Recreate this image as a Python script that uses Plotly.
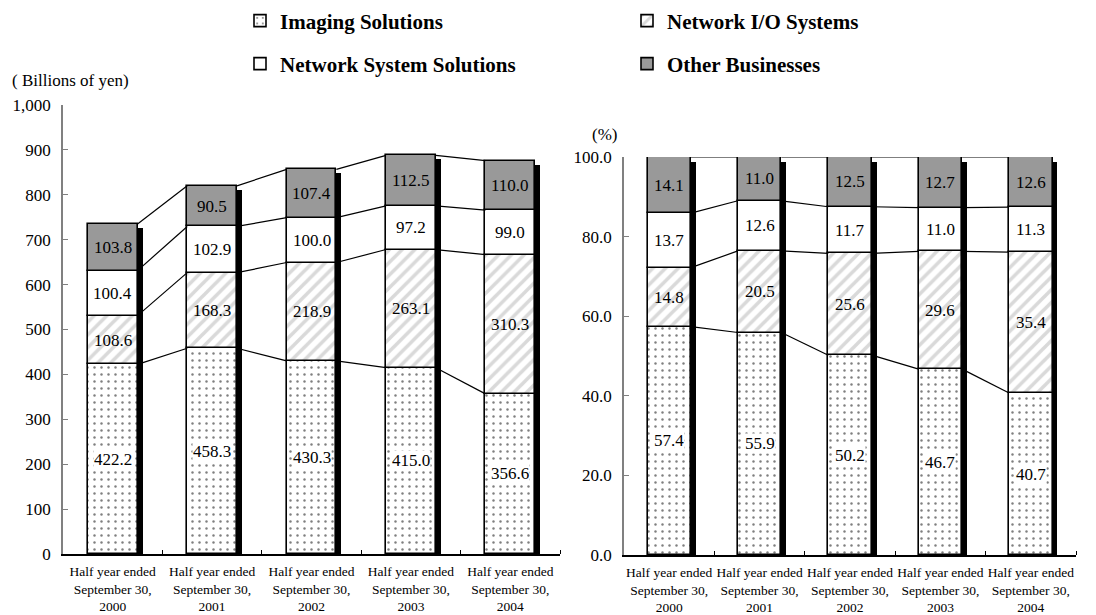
import plotly.graph_objects as go

# ---- data -------------------------------------------------------------
periods = [
    "Half year ended<br>September 30,<br>2000",
    "Half year ended<br>September 30,<br>2001",
    "Half year ended<br>September 30,<br>2002",
    "Half year ended<br>September 30,<br>2003",
    "Half year ended<br>September 30,<br>2004",
]
segments = ["Imaging Solutions", "Network I/O Systems",
            "Network System Solutions", "Other Businesses"]

# net sales, billions of yen
sales_imaging = [422.2, 458.3, 430.3, 415.0, 356.6]
sales_network_io = [108.6, 168.3, 218.9, 263.1, 310.3]
sales_network_sys = [100.4, 102.9, 100.0, 97.2, 99.0]
sales_other = [103.8, 90.5, 107.4, 112.5, 110.0]

# composition, %
share_imaging = [57.4, 55.9, 50.2, 46.7, 40.7]
share_network_io = [14.8, 20.5, 25.6, 29.6, 35.4]
share_network_sys = [13.7, 12.6, 11.7, 11.0, 11.3]
share_other = [14.1, 11.0, 12.5, 12.7, 12.6]

# ---- styling ----------------------------------------------------------
W, H = 1096, 615
SERIF = "Liberation Serif"

styles = [
    dict(color="white", pattern=dict(shape=".", fgcolor="black", bgcolor="white",
                                     size=7, solidity=0.1)),
    dict(color="white", pattern=dict(shape="/", fgcolor="#b4b4b4", bgcolor="white",
                                     size=9, solidity=0.4)),
    dict(color="white"),
    dict(color="#999999"),
]
label_bg = ["white", None, None, None]
legend_of = ["legend", "legend", "legend2", "legend2"]


def fx(p):
    return p / W


def fy(p):
    return 1 - p / H


fig = go.Figure()
annotations = []

panels = [
    dict(xa="x", ya="y", series=[sales_imaging, sales_network_io, sales_network_sys, sales_other],
         width=0.5, shift=0.05, drop=9, fmt="{:.1f}", legend=True),
    dict(xa="x2", ya="y2", series=[share_imaging, share_network_io, share_network_sys, share_other],
         width=0.48, shift=0.055, drop=1.2, fmt="{:.1f}", legend=False),
]

for p in panels:
    n = len(periods)
    idx = list(range(n))
    w = p["width"]
    totals = [sum(s[i] for s in p["series"]) for i in idx]

    # drop shadow on the right side of each column
    fig.add_trace(go.Bar(
        x=idx, y=[t - p["drop"] for t in totals], base=[0] * n,
        width=w, offset=-w / 2 + p["shift"],
        marker=dict(color="black", line=dict(width=0)),
        xaxis=p["xa"], yaxis=p["ya"], showlegend=False, hoverinfo="skip",
    ))

    cum = [0.0] * n
    levels = []
    for k, vals in enumerate(p["series"]):
        fig.add_trace(go.Bar(
            x=idx, y=vals, base=list(cum), width=w, offset=-w / 2,
            name=segments[k],
            marker=dict(line=dict(color="black", width=1.6), **styles[k]),
            xaxis=p["xa"], yaxis=p["ya"],
            showlegend=p["legend"], legend=legend_of[k],
        ))
        for i in idx:
            a = dict(x=i, y=cum[i] + vals[i] / 2, xref=p["xa"], yref=p["ya"],
                     text=p["fmt"].format(vals[i]), showarrow=False,
                     font=dict(family=SERIF, size=17, color="black"))
            if label_bg[k]:
                a.update(bgcolor=label_bg[k], borderpad=0)
            annotations.append(a)
        cum = [cum[i] + vals[i] for i in idx]
        levels.append(list(cum))

    # connector lines between neighbouring columns
    for lv in levels:
        xs, ys = [], []
        for i in range(n - 1):
            xs += [i + w / 2, i + 1 - w / 2, None]
            ys += [lv[i], lv[i + 1], None]
        fig.add_trace(go.Scatter(
            x=xs, y=ys, mode="lines", line=dict(color="black", width=1.2),
            xaxis=p["xa"], yaxis=p["ya"], showlegend=False, hoverinfo="skip",
        ))

tick_font = dict(family=SERIF, size=17, color="black")
cat_font = dict(family=SERIF, size=13.5, color="black")


def xaxis_cfg(domain, anchor):
    return dict(
        domain=domain, anchor=anchor, range=[-0.5, 4.5],
        tickmode="array", tickvals=list(range(5)), ticktext=periods,
        ticks="", showgrid=False, zeroline=False,
        showline=True, linecolor="black", linewidth=2,
        tickfont=cat_font, ticklabelstandoff=4,
        minor=dict(tickmode="array", tickvals=[i - 0.5 for i in range(1, 6)],
                   ticks="inside", ticklen=4, tickcolor="black", tickwidth=1,
                   showgrid=False),
    )


def yaxis_cfg(domain, anchor, top, step, fmt):
    return dict(
        domain=domain, anchor=anchor, range=[0, top], dtick=step,
        tickformat=fmt, showgrid=False, zeroline=False,
        showline=True, linecolor="#808080", linewidth=1.5,
        ticks="inside", ticklen=5, tickcolor="#808080",
        tickfont=tick_font, ticklabelstandoff=7,
    )


legend_font = dict(family=SERIF, size=21, color="black", weight="bold")

annotations += [
    dict(x=fx(10), y=fy(80), xref="paper", yref="paper", xanchor="left", yanchor="middle",
         text="( Billions of yen)", showarrow=False,
         font=dict(family=SERIF, size=17, color="black")),
    dict(x=fx(590), y=fy(135), xref="paper", yref="paper", xanchor="left", yanchor="middle",
         text="(%)", showarrow=False, font=dict(family=SERIF, size=17, color="black")),
]

fig.update_layout(
    width=W, height=H, margin=dict(l=0, r=0, t=0, b=0, autoexpand=False),
    paper_bgcolor="white", plot_bgcolor="white",
    barmode="overlay", bargap=0,
    xaxis=xaxis_cfg([fx(63), fx(560)], "y"),
    xaxis2=xaxis_cfg([fx(624), fx(1076)], "y2"),
    yaxis=yaxis_cfg([fy(554), fy(105)], "x", 1000, 100, ","),
    yaxis2=yaxis_cfg([fy(555), fy(157)], "x2", 100, 20, ".1f"),
    legend=dict(orientation="h", x=fx(240), y=fy(21), xanchor="left", yanchor="middle",
                entrywidthmode="pixels", entrywidth=342, font=legend_font,
                bgcolor="rgba(0,0,0,0)", traceorder="normal"),
    legend2=dict(orientation="h", x=fx(240), y=fy(64), xanchor="left", yanchor="middle",
                 entrywidthmode="pixels", entrywidth=342, font=legend_font,
                 bgcolor="rgba(0,0,0,0)", traceorder="normal"),
    annotations=annotations,
)

fig.write_html("out.html")
